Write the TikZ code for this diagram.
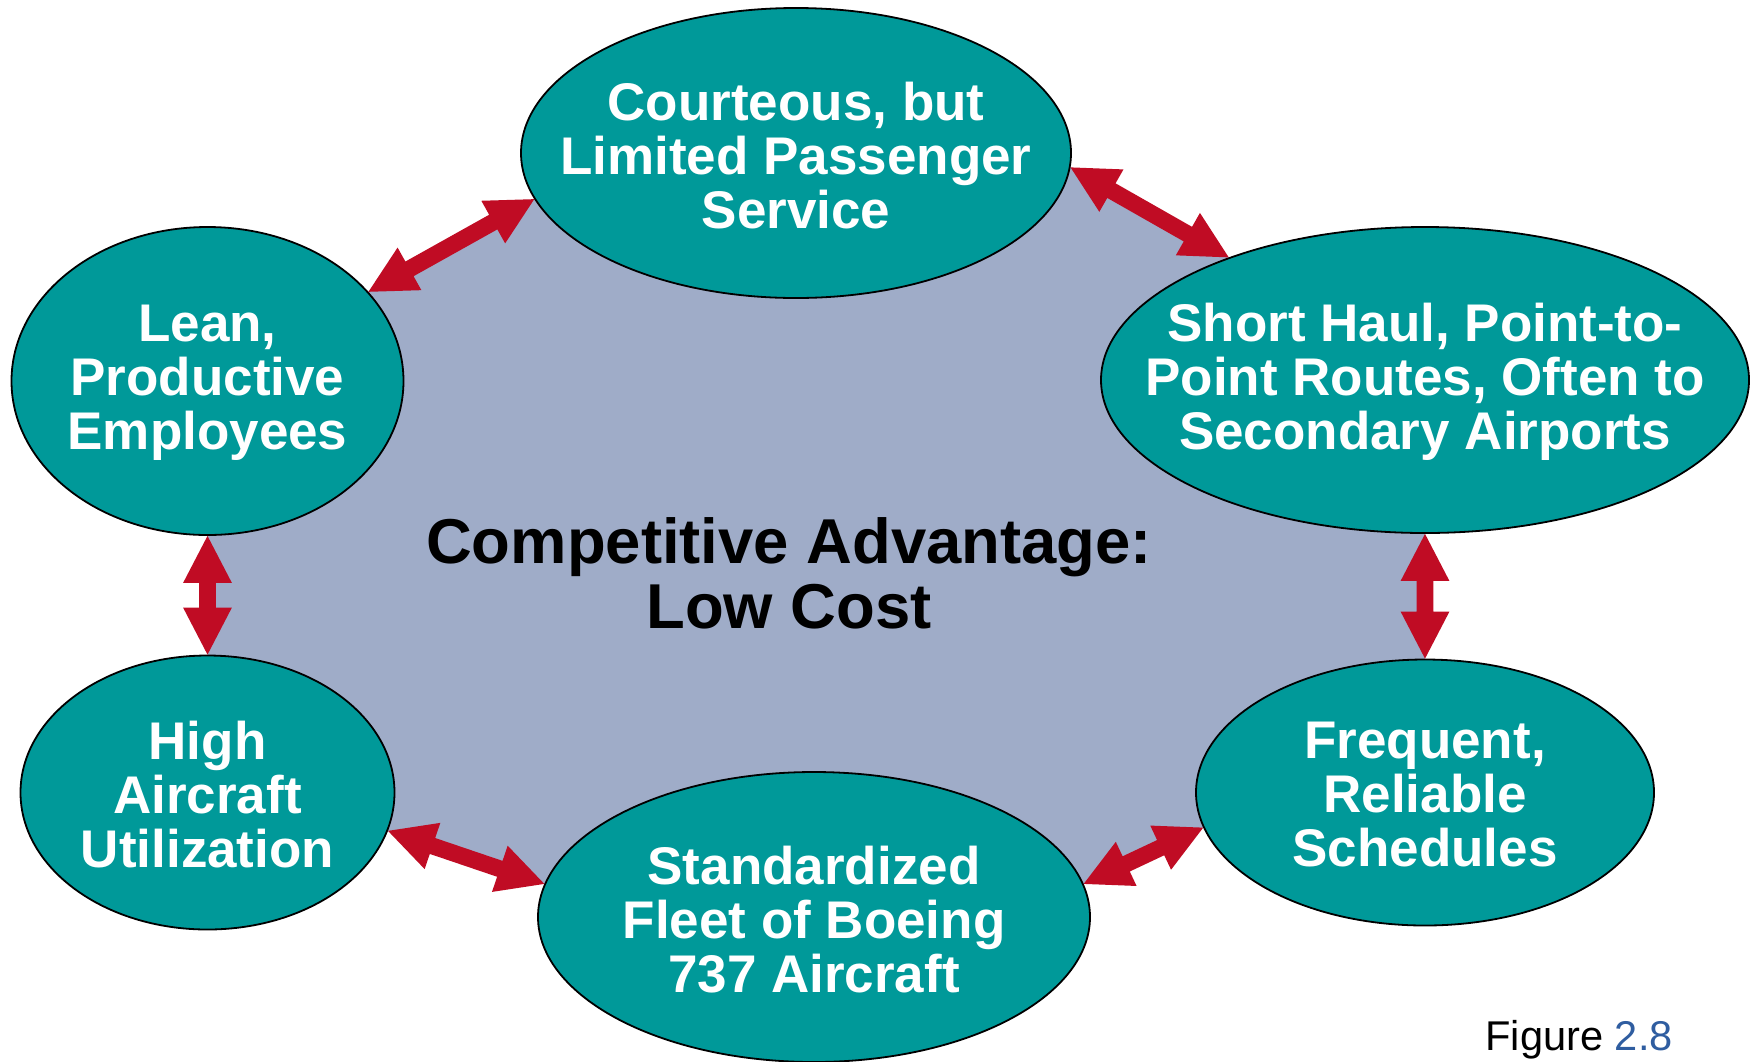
\documentclass[tikz,border=0pt]{standalone}
\usepackage{fontspec}
\setmainfont{Liberation Sans}
\usetikzlibrary{shapes.geometric,calc,backgrounds}
\definecolor{tealfill}{HTML}{009999}
\definecolor{bggray}{HTML}{9FACC8}
\definecolor{arrowred}{HTML}{C00C24}
\definecolor{figblue}{HTML}{2F5DA0}
\newcommand\dblarrow[2]{%
  \coordinate (ha) at ($(#1)!23.5pt!(#2)$);
  \coordinate (hb) at ($(#2)!23.5pt!(#1)$);
  \fill[arrowred] (#1) -- ($(ha)!12.2pt!90:(#2)$) -- ($(ha)!4.2pt!90:(#2)$)
    -- ($(hb)!4.2pt!-90:(#1)$) -- ($(hb)!12.2pt!-90:(#1)$) -- (#2)
    -- ($(hb)!12.2pt!90:(#1)$) -- ($(hb)!4.2pt!90:(#1)$)
    -- ($(ha)!4.2pt!-90:(#2)$) -- ($(ha)!12.2pt!-90:(#2)$) -- cycle;}
\begin{document}
\begin{tikzpicture}[x=0.5pt,y=-0.5pt,
  ell/.style={ellipse, draw=black, line width=0.9pt, fill=tealfill, inner sep=0pt},
  lbl/.style={text=white, align=center, inner sep=0pt, yshift=-1.1pt,
    font=\bfseries\fontsize{26.5}{27}\selectfont}]
\useasboundingbox (0,0) rectangle (1754,1061);
% ellipses
\node[ell, minimum width=275pt, minimum height=145pt] (top) at (796,153) {};
\node[ell, minimum width=196pt, minimum height=154pt] (lean) at (207.5,381) {};
\node[ell, minimum width=324pt, minimum height=153pt] (short) at (1425,380) {};
\node[ell, minimum width=187pt, minimum height=137pt] (high) at (207.5,792.5) {};
\node[ell, minimum width=276pt, minimum height=145pt] (std) at (814,917) {};
\node[ell, minimum width=229pt, minimum height=133pt] (freq) at (1425,792.5) {};
% background
\begin{scope}[on background layer]
  \fill[white] (0,0) rectangle (1754,1061);
  \fill[bggray] (lean.29) -- (top.190) -- (top.357) -- (short.148) -- (short.270)
    -- (freq.90) -- (freq.189) -- (std.7) -- (std.173) -- (high.348) -- (high.90)
    -- (lean.270) -- cycle;
\end{scope}
% labels
\node[lbl] (topT) at (top) {Courteous, but\\Limited Passenger\\Service};
\node[lbl] (leanT) at (lean) {Lean,\\Productive\\Employees};
\node[lbl] (shortT) at (short) {Short Haul, Point-to-\\Point Routes, Often to\\Secondary Airports};
\node[lbl] (highT) at (high) {High\\Aircraft\\Utilization};
\node[lbl] (stdT) at (std) {Standardized\\Fleet of Boeing\\737 Aircraft};
\node[lbl] (freqT) at (freq) {Frequent,\\Reliable\\Schedules};
\node[align=center, inner sep=0pt, font=\bfseries\fontsize{31.7}{32.5}\selectfont]
  (centerT) at (789,573) {Competitive Advantage:\\Low Cost};
\node[anchor=base west, inner sep=0pt, font=\fontsize{20.8}{24}\selectfont]
  (fig) at (1485,1050) {Figure \textcolor{figblue}{2.8}};
% arrows
\dblarrow{lean.29}{top.190}
\dblarrow{top.357}{short.148}
\dblarrow{short.270}{freq.90}
\dblarrow{freq.189}{std.7}
\dblarrow{std.173}{high.348}
\dblarrow{high.90}{lean.270}
\end{tikzpicture}
\end{document}
